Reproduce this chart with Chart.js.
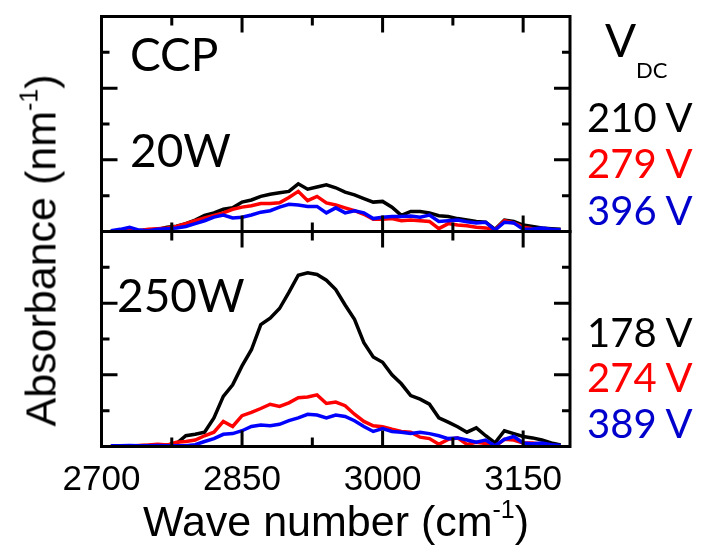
<!DOCTYPE html>
<html>
<head>
<meta charset="utf-8">
<script src="https://cdn.jsdelivr.net/npm/chart.js@4.4.1/dist/chart.umd.min.js"></script>
<style>
  body { margin: 0; width: 712px; height: 546px; position: relative; background: #fff; overflow: hidden; }
  canvas { position: absolute; left: 0; }
  .lbl { position: absolute; font-family: Lato, "Open Sans", sans-serif; line-height: 1; white-space: nowrap; }
  .ax { position: absolute; font-family: "Liberation Sans", Arial, sans-serif; font-size: 43px; line-height: 1; white-space: nowrap; text-align: center; width: 440px; height: 43px; }
  .ax sup { font-size: 25px; vertical-align: 18px; line-height: 0; }
  .k { color: #000; } .r { color: #ff0000; } .b { color: #0000cc; }
</style>
</head>
<body>
<canvas id="chartTop" width="712" height="240" style="top:0px"></canvas>
<canvas id="chartBottom" width="712" height="323" style="top:223px"></canvas>

<div class="lbl" style="left:130px; top:31px; font-size:46px;">CCP</div>
<div class="lbl" style="left:130px; top:127px; font-size:46px;">20W</div>
<div class="lbl" style="left:117px; top:272px; font-size:46px;">250W</div>

<div class="lbl" style="left:605px; top:17px; font-size:46px;">V</div>
<div class="lbl" style="left:636px; top:59px; font-size:22px;">DC</div>
<div class="lbl k" style="left:587px; top:97px; font-size:40px;">210 V</div>
<div class="lbl r" style="left:587px; top:143px; font-size:40px;">279 V</div>
<div class="lbl b" style="left:587px; top:190px; font-size:40px;">396 V</div>
<div class="lbl k" style="left:587px; top:312px; font-size:40px;">178 V</div>
<div class="lbl r" style="left:587px; top:357px; font-size:40px;">274 V</div>
<div class="lbl b" style="left:587px; top:403px; font-size:40px;">389 V</div>

<div class="ax" style="left:116px; top:500px;">Wave number (cm<sup>-1</sup>)</div>
<div class="ax" style="left:-179px; top:229px; transform: rotate(-90deg);">Absorbance (nm<sup>-1</sup>)</div>

<script>
// wave numbers (cm-1) shared by all spectra
const wavenumber = [2710, 2720, 2730, 2740, 2750, 2760, 2770, 2780, 2790, 2800,
  2810, 2820, 2830, 2840, 2850, 2860, 2870, 2880, 2890, 2900,
  2910, 2920, 2930, 2940, 2950, 2960, 2970, 2980, 2990, 3000,
  3010, 3020, 3030, 3040, 3050, 3060, 3070, 3080, 3090, 3100,
  3110, 3120, 3130, 3140, 3150, 3160, 3170, 3180, 3190];

// CCP 20W
const w20_210V = [0.02, 0.03, 0.08, 0.02, 0.04, 0.06, 0.12, 0.15, 0.22, 0.32,
  0.45, 0.52, 0.62, 0.66, 0.82, 0.88, 0.98, 1.04, 1.08, 1.12,
  1.33, 1.18, 1.24, 1.30, 1.22, 1.10, 1.02, 0.92, 0.82, 0.84,
  0.68, 0.45, 0.56, 0.56, 0.52, 0.44, 0.42, 0.36, 0.32, 0.28,
  0.26, 0.06, 0.32, 0.28, 0.18, 0.14, 0.10, 0.08, 0.06];
const w20_279V = [0.00, 0.02, 0.04, 0.02, 0.06, 0.08, 0.10, 0.14, 0.22, 0.30,
  0.38, 0.45, 0.52, 0.62, 0.68, 0.72, 0.78, 0.78, 0.80, 0.95,
  1.12, 0.86, 0.98, 0.80, 0.74, 0.66, 0.58, 0.48, 0.34, 0.34,
  0.36, 0.30, 0.32, 0.30, 0.28, 0.08, 0.22, 0.18, 0.16, 0.12,
  0.10, 0.04, 0.30, 0.24, 0.12, 0.08, 0.06, 0.04, 0.02];
const w20_396V = [0.02, 0.06, 0.12, 0.04, 0.02, 0.06, 0.08, 0.10, 0.14, 0.22,
  0.30, 0.40, 0.46, 0.38, 0.40, 0.46, 0.54, 0.58, 0.68, 0.76,
  0.74, 0.70, 0.70, 0.52, 0.66, 0.52, 0.58, 0.52, 0.36, 0.40,
  0.42, 0.42, 0.43, 0.40, 0.46, 0.28, 0.30, 0.32, 0.27, 0.24,
  0.26, 0.04, 0.26, 0.24, 0.06, 0.07, 0.10, 0.06, 0.04];

// CCP 250W
const w250_178V = [0.02, 0.02, 0.01, 0.02, 0.03, 0.02, 0.04, 0.08, 0.30, 0.34,
  0.40, 0.80, 1.40, 1.72, 2.25, 2.70, 3.40, 3.58, 3.85, 4.30,
  4.78, 4.85, 4.80, 4.64, 4.38, 3.95, 3.55, 2.90, 2.50, 2.35,
  2.00, 1.75, 1.42, 1.32, 1.18, 0.80, 0.68, 0.55, 0.40, 0.52,
  0.30, 0.10, 0.44, 0.36, 0.28, 0.24, 0.18, 0.10, 0.04];
const w250_274V = [0.00, 0.02, 0.01, 0.03, 0.04, 0.06, 0.04, 0.12, 0.14, 0.18,
  0.30, 0.40, 0.70, 0.56, 0.86, 0.95, 1.06, 1.18, 1.12, 1.22,
  1.36, 1.38, 1.44, 1.20, 1.24, 1.14, 0.90, 0.70, 0.58, 0.55,
  0.48, 0.42, 0.40, 0.26, 0.22, 0.06, 0.20, 0.24, 0.06, 0.12,
  0.08, 0.00, 0.20, 0.18, 0.10, 0.10, 0.06, 0.02, 0.00];
const w250_389V = [0.02, 0.02, 0.03, 0.02, 0.02, 0.03, 0.02, 0.02, 0.02, 0.05,
  0.14, 0.22, 0.34, 0.36, 0.44, 0.56, 0.60, 0.58, 0.62, 0.72,
  0.80, 0.90, 0.88, 0.80, 0.88, 0.84, 0.72, 0.56, 0.42, 0.50,
  0.42, 0.40, 0.36, 0.40, 0.36, 0.30, 0.22, 0.24, 0.18, 0.12,
  0.18, 0.02, 0.20, 0.28, 0.10, 0.08, 0.10, 0.05, 0.03];

// axes
const xMin = 2700, xMax = 3200;
const yMin = 0, yMax = 6;
const xLabels = [2700, 2850, 3000, 3150];
const xTicks = [2775, 2850, 2925, 3000, 3075, 3150];
const xMajor = [2850, 3000, 3150];
const yTicks = [1, 2, 3, 4, 5];
const yMajor = [2, 4];

const toPoints = vals => vals.map((v, i) => ({ x: wavenumber[i], y: v }));

function linha(vals, cor, ordem) {
  return { data: toPoints(vals), borderColor: cor, borderWidth: 3.5, pointRadius: 0, tension: 0, fill: false, order: ordem };
}

// moldura + ticks para dentro
const moldura = {
  id: 'moldura',
  afterDraw(chart) {
    const { ctx, chartArea: a, scales } = chart;
    ctx.save();
    ctx.strokeStyle = '#000';
    ctx.lineWidth = 3;
    ctx.lineCap = 'butt';
    ctx.beginPath();
    xTicks.forEach(v => {
      const px = scales.x.getPixelForValue(v);
      const len = xMajor.includes(v) ? 16 : 9;
      ctx.moveTo(px, a.top); ctx.lineTo(px, a.top + len);
      ctx.moveTo(px, a.bottom); ctx.lineTo(px, a.bottom - len);
    });
    yTicks.forEach(v => {
      const py = scales.y.getPixelForValue(v);
      const len = yMajor.includes(v) ? 16 : 8;
      ctx.moveTo(a.left, py); ctx.lineTo(a.left + len, py);
      ctx.moveTo(a.right, py); ctx.lineTo(a.right - len, py);
    });
    ctx.stroke();
    ctx.strokeRect(a.left, a.top, a.right - a.left, a.bottom - a.top);
    ctx.restore();
  }
};

function opcoes(mostrarX, padding) {
  const eixoX = {
    type: 'linear', min: xMin, max: xMax, display: mostrarX,
    grid: { display: false, drawTicks: false },
    border: { display: false },
    afterBuildTicks: axis => { axis.ticks = xLabels.map(v => ({ value: v })); },
    ticks: { color: '#000', padding: 13, maxRotation: 0, autoSkip: false,
             callback: v => String(v),
             font: { family: '"Liberation Sans", Arial, sans-serif', size: 35 } }
  };
  if (mostrarX) eixoX.afterFit = scale => { scale.height = 60; };
  return {
    responsive: false,
    animation: false,
    layout: { padding: padding },
    plugins: { legend: { display: false }, tooltip: { enabled: false } },
    scales: {
      x: eixoX,
      y: { type: 'linear', min: yMin, max: yMax, display: false }
    }
  };
}

new Chart(document.getElementById('chartTop'), {
  type: 'line',
  data: { datasets: [linha(w20_210V, '#000000', 2), linha(w20_279V, '#ff0000', 1), linha(w20_396V, '#0000ff', 0)] },
  options: opcoes(false, { left: 101.5, right: 142, top: 16.5, bottom: 8.5 }),
  plugins: [moldura]
});

new Chart(document.getElementById('chartBottom'), {
  type: 'line',
  data: { datasets: [linha(w250_178V, '#000000', 2), linha(w250_274V, '#ff0000', 1), linha(w250_389V, '#0000ff', 0)] },
  options: opcoes(true, { left: 101.5, right: 142, top: 8.5, bottom: 39.5 }),
  plugins: [moldura]
});
</script>
</body>
</html>
